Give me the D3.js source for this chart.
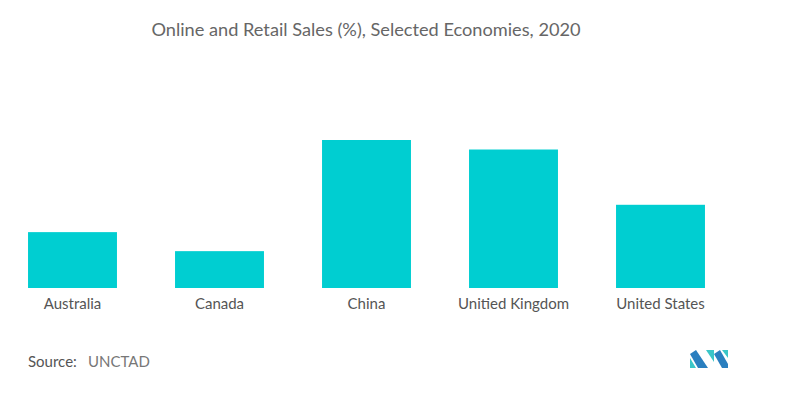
<!DOCTYPE html>
<meta charset="utf-8">
<script src="https://cdn.jsdelivr.net/npm/d3@7"></script>
<style>
    body { margin: 0; background: #fff; }
    text { font-family: Lato, "Open Sans", sans-serif; }
</style>
<body>
<script>

    var countries = ["Australia", "Canada", "China", "Unitied Kingdom", "United States"]
    var shares = [9.4, 6.2, 24.9, 23.3, 14.0]

    var w = 788, h = 393
    var base = 288, top_y = 140

    var svg = d3.select("body").append("svg").attr("width", w).attr("height", h)

    var x = d3.scaleBand().domain(countries).range([-1, 734]).paddingInner(0.395).paddingOuter(0.1975)
    var y = d3.scaleLinear().domain([0, 24.9]).range([base, top_y])

    svg.append("text").attr("x", 366).attr("y", 36).attr("text-anchor", "middle")
        .style("font-size", "18.2px").style("fill", "#666")
        .text("Online and Retail Sales (%), Selected Economies, 2020")

    svg.selectAll(".bar").data(countries).enter().append("rect").attr("class", "bar")
        .attr("x", d => x(d)).attr("width", x.bandwidth())
        .attr("y", (d, i) => y(shares[i])).attr("height", (d, i) => base - y(shares[i]))
        .style("fill", "#00CED1")

    var x_axis = d3.axisBottom(x).tickSize(0).tickPadding(10)
    var g = svg.append("g").attr("transform", "translate(0," + base + ")").call(x_axis)
    g.select(".domain").remove()
    g.selectAll("text").style("font-size", "15px").style("fill", "#555").style("font-family", "Lato, 'Open Sans', sans-serif")

    svg.append("text").attr("x", 28).attr("y", 367).style("font-size", "15px").style("fill", "#555")
        .text("Source:")
    svg.append("text").attr("x", 88).attr("y", 367).style("font-size", "15px").style("fill", "#777")
        .text("UNCTAD")

    // logo
    var logo = svg.append("g").attr("transform", "translate(690,350)")
    logo.append("path").attr("d", "M0,4 L6,0 L18,18 L8,18 Z").style("fill", "#2a7fbf")
    logo.append("path").attr("d", "M0,8 L6,18 L0,18 Z").style("fill", "#3ac6c8")
    logo.append("path").attr("d", "M16,0 L24,0 L24,12 Z").style("fill", "#3ac6c8")
    logo.append("path").attr("d", "M24,4 L30,0 L38,14 L38,18 L32,18 Z").style("fill", "#2a7fbf")
    logo.append("path").attr("d", "M32,0 L38,0 L38,8 Z").style("fill", "#3ac6c8")

</script>
</body>
